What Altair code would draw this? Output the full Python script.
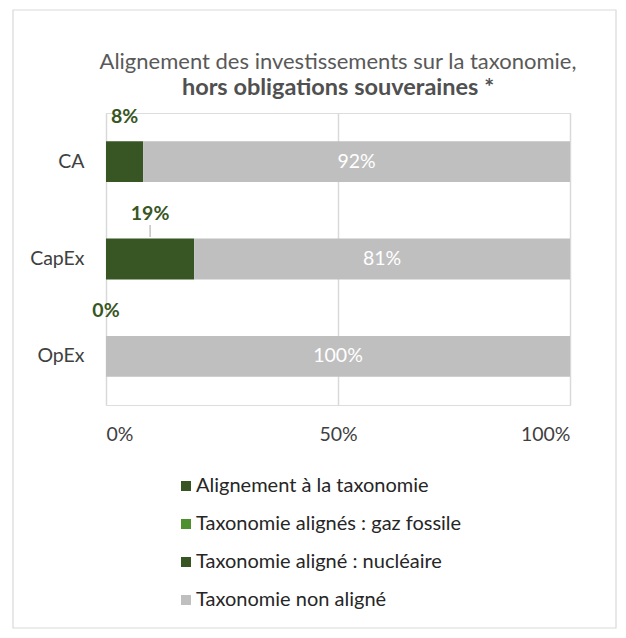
import altair as alt
import pandas as pd

categories = ["CA", "CapEx", "OpEx"]
aligned = [8, 19, 0]
gaz_fossile = [0, 0, 0]
nucleaire = [0, 0, 0]
non_aligned = [92, 81, 100]
leader = [False, True, False]

series = ["Alignement à la taxonomie", "Taxonomie alignés : gaz fossile",
          "Taxonomie aligné : nucléaire", "Taxonomie non aligné"]
colors = ["#375623", "#4E8F2E", "#375623", "#BFBFBF"]

title_lines = ["Alignement des investissements sur la taxonomie,", "hors obligations souveraines *"]

rows = []
for i, c in enumerate(categories):
    for k, (s, v) in enumerate(zip(series, [aligned[i], gaz_fossile[i], nucleaire[i], non_aligned[i]])):
        rows.append({"cat": c, "series": s, "value": v, "order": k})
long_df = pd.DataFrame(rows)

wide_df = pd.DataFrame({"cat": categories, "aligned": aligned, "non_aligned": non_aligned, "leader": leader})

FONT = "Lato"
FS = 19.5

y_enc = alt.Y("cat:N", sort=categories, title=None,
              scale=alt.Scale(paddingInner=0.58, paddingOuter=0.29),
              axis=alt.Axis(ticks=False, domain=False, labelFontSize=FS, labelColor="#404040",
                            labelPadding=22, labelFont=FONT, grid=False))

x_scale = alt.Scale(domain=[0, 100], nice=False)

bars = alt.Chart(long_df).mark_bar().encode(
    x=alt.X("value:Q", stack="zero", scale=x_scale, title=None,
            axis=alt.Axis(values=[0, 50, 100], labelExpr="datum.value + '%'", ticks=False, domain=False,
                          grid=True, gridColor="#D9D9D9", gridWidth=1.5, labelFontSize=FS,
                          labelColor="#404040", labelPadding=20, labelFont=FONT)),
    y=y_enc,
    color=alt.Color("series:N", scale=alt.Scale(domain=series, range=colors), sort=series,
                    legend=alt.Legend(title=None, orient="none", legendX=70, legendY=363,
                                      direction="vertical", symbolType="square", symbolSize=100,
                                      symbolStrokeWidth=0, labelFontSize=20, labelFont=FONT,
                                      labelColor="#262626", rowPadding=18, labelOffset=0,
                                      labelLimit=400)),
    order=alt.Order("order:Q"),
)

green_labels = alt.Chart(wide_df).transform_calculate(
    mid="datum.aligned / 2", lbl="datum.aligned + '%'"
).mark_text(fontSize=FS, fontWeight="bold", color="#375623", font=FONT, dy=-45).encode(
    x=alt.X("mid:Q", scale=x_scale),
    y=alt.Y("cat:N", sort=categories),
    text="lbl:N",
)

gray_labels = alt.Chart(wide_df).transform_calculate(
    mid="datum.aligned + datum.non_aligned / 2", lbl="datum.non_aligned + '%'"
).mark_text(fontSize=FS, color="#FFFFFF", font=FONT).encode(
    x=alt.X("mid:Q", scale=x_scale),
    y=alt.Y("cat:N", sort=categories),
    text="lbl:N",
)

leader_lines = alt.Chart(wide_df).transform_filter("datum.leader").transform_calculate(
    mid="datum.aligned / 2"
).mark_tick(orient="vertical", color="#7F7F7F", thickness=1, size=12, yOffset=-28).encode(
    x=alt.X("mid:Q", scale=x_scale),
    y=alt.Y("cat:N", sort=categories),
)

frame = alt.Chart(pd.DataFrame({"a": [0]})).mark_rect(
    fill=None, stroke="#D9D9D9", strokeWidth=1.2
).encode(
    x=alt.value(-93), x2=alt.value(510), y=alt.value(-103), y2=alt.value(515)
)

title1 = alt.Chart(pd.DataFrame({"t": [title_lines[0]]})).mark_text(
    font=FONT, fontSize=22, color="#595959", align="center", baseline="middle"
).encode(text="t:N", x=alt.value(232), y=alt.value(-51))

title2 = alt.Chart(pd.DataFrame({"t": [title_lines[1]]})).mark_text(
    font=FONT, fontSize=23.5, fontWeight="bold", color="#505050", align="center", baseline="middle"
).encode(text="t:N", x=alt.value(232), y=alt.value(-25))

chart = alt.layer(frame, title1, title2, bars, leader_lines, green_labels, gray_labels).properties(
    width=464, height=292,
    padding={"left": 98, "top": 105, "right": 48, "bottom": 225},
    autosize=alt.AutoSizeParams(type="none"),
).configure_view(stroke=None).configure(background="white")

chart.save("out.html", embed_options={"renderer": "svg", "actions": False})
